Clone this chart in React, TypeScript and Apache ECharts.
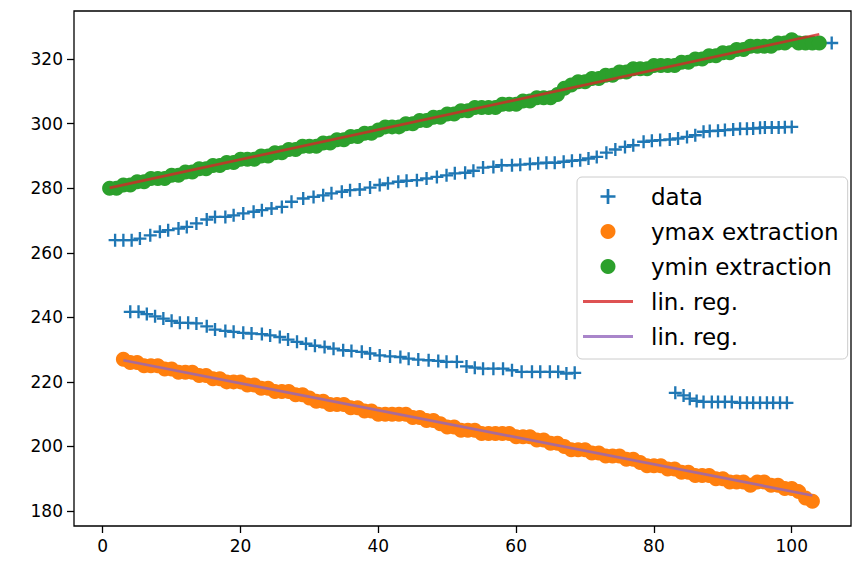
import React, { useEffect, useRef } from "react";
import * as echarts from "echarts";

// ---- data ----
const dataUpperX = [1.8, 3.0, 4.2, 5.4, 6.9, 8.3, 9.5, 11.0, 12.2, 13.6, 15.1, 16.3, 17.8, 19.0, 20.4, 21.9, 23.1, 24.5, 26.0, 27.4, 29.1, 30.6, 32.0, 33.2, 34.7, 35.9, 37.3, 38.8, 40.2, 41.4, 42.9, 44.1, 45.6, 47.0, 48.5, 49.9, 51.1, 52.6, 53.8, 55.2, 56.7, 57.9, 59.4, 60.6, 62.0, 63.2, 64.4, 65.6, 66.9, 68.1, 69.3, 70.5, 71.7, 73.1, 74.4, 75.8, 77.0, 78.5, 79.7, 80.9, 82.3, 83.5, 84.8, 86.0, 87.2, 88.1, 89.3, 90.3, 91.5, 92.5, 93.5, 94.4, 95.4, 96.1, 97.1, 98.1, 99.0, 100.0, 105.8];
const dataUpperY = [263.9, 263.9, 263.9, 264.4, 265.4, 266.5, 267.0, 267.5, 268.0, 269.1, 270.3, 271.1, 271.1, 271.6, 272.2, 272.7, 273.2, 273.7, 274.2, 275.8, 276.8, 277.3, 277.8, 278.4, 278.9, 279.4, 279.6, 280.2, 281.0, 281.5, 282.0, 282.3, 282.5, 283.0, 283.5, 284.0, 284.6, 284.8, 285.4, 286.4, 286.6, 287.1, 287.1, 287.3, 287.5, 287.7, 287.9, 287.9, 288.2, 288.5, 288.7, 289.2, 289.7, 291.0, 292.0, 292.8, 293.3, 294.4, 294.7, 294.9, 295.1, 295.4, 295.9, 296.4, 297.5, 297.7, 297.8, 298.0, 298.2, 298.4, 298.4, 298.5, 298.7, 298.8, 298.8, 298.8, 298.9, 299.0, 325.0];
const dataLowerX = [4.0, 5.2, 6.4, 7.6, 8.8, 10.0, 11.2, 12.4, 13.6, 15.1, 16.3, 17.8, 19.0, 20.4, 21.6, 23.1, 24.3, 25.7, 26.9, 28.2, 29.5, 30.8, 32.2, 33.5, 34.9, 36.1, 37.6, 38.8, 40.2, 41.7, 43.2, 44.4, 45.8, 47.3, 48.7, 49.9, 51.4, 52.8, 54.0, 55.2, 56.7, 58.1, 59.4, 60.8, 62.3, 63.5, 64.9, 66.1, 67.3, 68.5];
const dataLowerY = [241.7, 241.7, 241.0, 240.3, 239.6, 238.9, 238.3, 238.3, 238.1, 237.2, 236.2, 235.8, 235.5, 235.2, 235.0, 234.8, 234.4, 233.9, 233.1, 232.4, 231.8, 231.2, 230.8, 230.3, 229.8, 229.6, 229.3, 228.8, 228.2, 227.9, 227.7, 227.2, 226.9, 226.7, 226.5, 226.2, 226.2, 224.8, 224.4, 224.1, 224.1, 224.1, 223.6, 223.1, 223.1, 223.1, 223.1, 223.1, 222.6, 222.8];
const dataRightX = [83.1, 84.3, 85.2, 86.2, 87.2, 88.4, 89.3, 90.3, 91.3, 92.5, 93.5, 94.4, 95.4, 96.4, 97.3, 98.3, 99.3];
const dataRightY = [216.6, 215.8, 214.8, 214.1, 213.8, 213.8, 213.8, 213.8, 213.8, 213.5, 213.5, 213.5, 213.5, 213.5, 213.5, 213.5, 213.5];

const ymaxStartX = 3;
const ymaxY = [
  227, 226, 226, 225, 225, 225, 224, 224, 223, 223,
  223, 222, 222, 221, 221, 220, 220, 220, 219, 219,
  218, 218, 217, 217, 217, 216, 216, 215, 214, 214,
  213, 213, 213, 212, 212, 211, 211, 210, 210, 210,
  210, 210, 209, 209, 208, 208, 207, 206, 206, 205,
  205, 205, 204, 204, 204, 204, 204, 203, 203, 203,
  202, 202, 201, 201, 200, 199, 199, 199, 198, 198,
  197, 197, 197, 196, 196, 195, 194, 194, 194, 193,
  193, 192, 192, 191, 191, 191, 190, 190, 189, 189,
  189, 188, 189, 189, 188, 188, 187, 187, 186, 184, 183,
];

const yminStartX = 1;
const yminY = [
  280, 280, 281, 281, 282, 282, 283, 283, 283, 284,
  284, 285, 285, 286, 286, 287, 287, 288, 288, 289,
  289, 289, 290, 290, 291, 291, 292, 292, 293, 293,
  293, 294, 294, 295, 295, 296, 296, 297, 297, 298,
  299, 299, 299, 300, 300, 301, 301, 302, 302, 303,
  303, 304, 304, 305, 305, 305, 305, 306, 306, 306,
  307, 307, 308, 308, 308, 309, 311, 312, 313, 313,
  314, 314, 315, 315, 316, 316, 317, 317, 317, 318,
  318, 318, 318, 319, 319, 320, 320, 321, 321, 322,
  322, 323, 323, 324, 324, 324, 324, 325, 325, 326,
  325, 325, 325, 325,
];

const regMinX = [1, 104];
const regMinY = [280.1, 327.7];
const regMaxX = [3, 103];
const regMaxY = [226.7, 184.8];

const xTicks = [0, 20, 40, 60, 80, 100];
const yTicks = [180, 200, 220, 240, 260, 280, 300, 320];

const FONT = "DejaVu Sans";
const PLUS = "path://M4.1,0H5.9V4.1H10V5.9H5.9V10H4.1V5.9H0V4.1H4.1Z";
const LINE_ICON = "path://M0,0H50V3H0Z";

const zip = (xs: number[], ys: number[]) => xs.map((x, i) => [x, ys[i]]);

export default function App() {
  const ref = useRef<HTMLDivElement>(null);
  useEffect(() => {
    if (!ref.current) return;
    const chart = echarts.init(ref.current, undefined, { renderer: "svg" });
    const dataPts = [
      ...zip(dataUpperX, dataUpperY),
      ...zip(dataLowerX, dataLowerY),
      ...zip(dataRightX, dataRightY),
    ];
    chart.setOption({
      animation: false,
      backgroundColor: "#ffffff",
      textStyle: { fontFamily: FONT },
      grid: {
        left: 74,
        top: 11,
        width: 777,
        height: 515,
        show: true,
        borderColor: "#000",
        borderWidth: 1.3,
        backgroundColor: "transparent",
      },
      xAxis: {
        type: "value",
        min: -4.166,
        max: 108.6,
        axisLine: { show: false, onZero: false },
        splitLine: { show: false },
        axisTick: { show: true, length: 7, lineStyle: { color: "#000", width: 1.3 }, customValues: xTicks },
        axisLabel: { customValues: xTicks, color: "#000", fontSize: 17, fontFamily: FONT, margin: 11 },
      },
      yAxis: {
        type: "value",
        min: 175.35,
        max: 334.9,
        axisLine: { show: false, onZero: false },
        splitLine: { show: false },
        axisTick: { show: true, length: 7, lineStyle: { color: "#000", width: 1.3 }, customValues: yTicks },
        axisLabel: { customValues: yTicks, color: "#000", fontSize: 17, fontFamily: FONT, margin: 11 },
      },
      legend: {
        orient: "vertical",
        left: 577,
        top: 177,
        padding: [8, 9, 11, 6],
        itemGap: 12,
        itemWidth: 50,
        itemHeight: 15,
        backgroundColor: "rgba(255,255,255,0.8)",
        borderColor: "#cccccc",
        borderWidth: 1,
        borderRadius: 5,
        formatter: (name: string) => name.trim(),
        textStyle: { fontSize: 23, fontFamily: FONT, color: "#000", padding: [0, 0, 0, 13] },
        data: [
          { name: "data", icon: PLUS },
          { name: "ymax extraction", icon: "circle" },
          { name: "ymin extraction", icon: "circle" },
          { name: "lin. reg.", icon: LINE_ICON },
          { name: "lin. reg. ", icon: LINE_ICON },
        ],
      },
      series: [
        {
          name: "data",
          type: "scatter",
          symbol: PLUS,
          symbolSize: 13,
          itemStyle: { color: "#1f77b4", opacity: 1 },
          data: dataPts,
          z: 2,
        },
        {
          name: "ymax extraction",
          type: "scatter",
          symbol: "circle",
          symbolSize: 15,
          itemStyle: { color: "#ff7f0e", opacity: 1 },
          data: ymaxY.map((y, i) => [ymaxStartX + i, y]),
          z: 3,
        },
        {
          name: "ymin extraction",
          type: "scatter",
          symbol: "circle",
          symbolSize: 15,
          itemStyle: { color: "#2ca02c", opacity: 1 },
          data: yminY.map((y, i) => [yminStartX + i, y]),
          z: 4,
        },
        {
          name: "lin. reg.",
          type: "line",
          symbol: "none",
          showSymbol: false,
          itemStyle: { color: "#d62728", opacity: 0.8 },
          lineStyle: { color: "#d62728", width: 2.7, opacity: 0.8 },
          data: zip(regMinX, regMinY),
          z: 5,
        },
        {
          name: "lin. reg. ",
          type: "line",
          symbol: "none",
          showSymbol: false,
          itemStyle: { color: "#9467bd", opacity: 0.8 },
          lineStyle: { color: "#9467bd", width: 2.7, opacity: 0.8 },
          data: zip(regMaxX, regMaxY),
          z: 6,
        },
      ],
    });
    return () => chart.dispose();
  }, []);
  return (
    <div
      ref={ref}
      style={{ position: "fixed", left: 0, top: 0, width: 852, height: 561, background: "#fff" }}
    />
  );
}
